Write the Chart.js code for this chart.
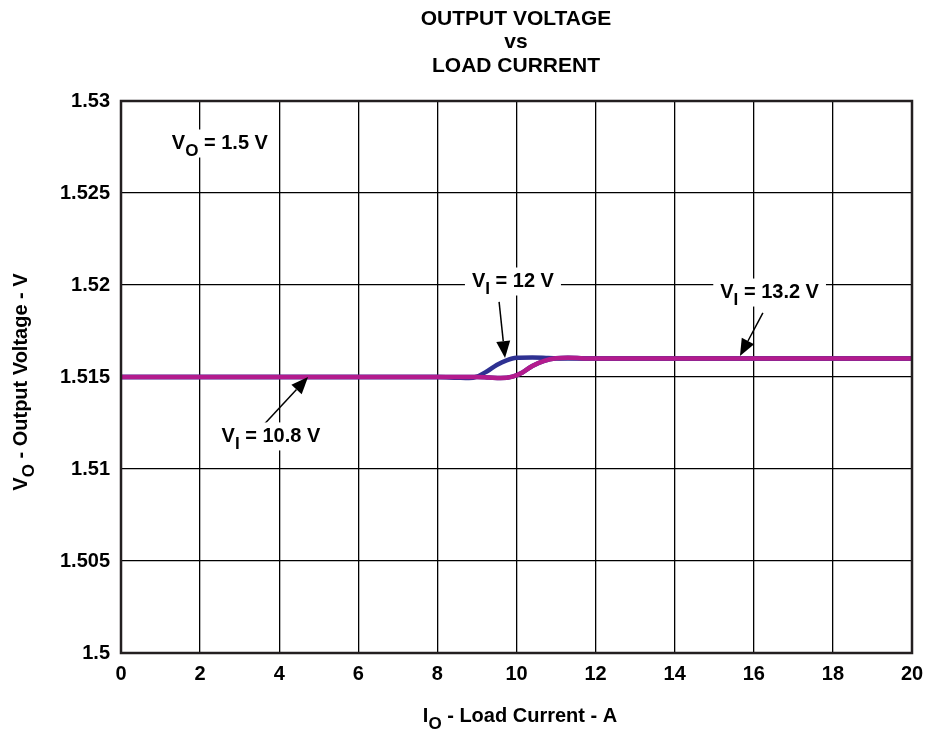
<!DOCTYPE html>
<html>
<head>
<meta charset="utf-8">
<script src="https://cdn.jsdelivr.net/npm/chart.js@4.4.1/dist/chart.umd.min.js"></script>
<style>
  html, body { margin: 0; padding: 0; background: #fff; }
  #wrap { width: 927px; height: 731px; position: relative; }
</style>
</head>
<body>
<div id="wrap"><canvas id="chart"></canvas></div>
<script>
// Values
const xTicks = [0, 2, 4, 6, 8, 10, 12, 14, 16, 18, 20];
const yTicks = [1.5, 1.505, 1.51, 1.515, 1.52, 1.525, 1.53];

const currentVi108 = [0, 2, 4, 6, 8, 9, 9.3, 9.6, 9.9, 10.15, 10.4, 10.7, 11, 11.3, 11.7, 12, 14, 16, 18, 20];
const voltageVi108 = [1.515, 1.515, 1.515, 1.515, 1.515, 1.515, 1.51497, 1.51494, 1.51502, 1.51525, 1.5156, 1.51588, 1.51602, 1.51605, 1.51601, 1.516, 1.516, 1.516, 1.516, 1.516];

const currentVi12 = [0, 2, 4, 6, 8, 8.5, 8.8, 9.0, 9.25, 9.5, 9.75, 10.0, 10.4, 10.8, 11.2, 12, 14, 16, 18, 20];
const voltageVi12 = [1.515, 1.515, 1.515, 1.515, 1.515, 1.51496, 1.51494, 1.51502, 1.5153, 1.51565, 1.5159, 1.51604, 1.51606, 1.51603, 1.516, 1.516, 1.516, 1.516, 1.516, 1.516];

const currentVi132 = [0, 2, 4, 6, 8, 9, 9.3, 9.6, 9.9, 10.15, 10.4, 10.7, 11, 11.3, 11.7, 12, 14, 16, 18, 20];
const voltageVi132 = [1.515, 1.515, 1.515, 1.515, 1.515, 1.515, 1.51497, 1.51494, 1.51502, 1.51525, 1.5156, 1.51588, 1.51602, 1.51605, 1.51601, 1.516, 1.516, 1.516, 1.516, 1.516];

const titleLines = ['OUTPUT VOLTAGE', 'vs', 'LOAD CURRENT'];

const BLUE = '#2e3192';
const MAGENTA = '#b31b8d';
const FONT = '"Liberation Sans", Arial, Helvetica, sans-serif';

const toPoints = (xs, ys) => xs.map((x, i) => ({ x, y: ys[i] }));

// annotation labels: text parts, label centre, arrow from/to (data units)
const notes = [
  { parts: [['V'], ['O', 1], [' = 1.5 V']], at: [2.5, 1.52769] },
  { parts: [['V'], ['I', 1], [' = 12 V']], at: [9.91, 1.52019], arrow: [[9.56, 1.51908], [9.71, 1.51603]] },
  { parts: [['V'], ['I', 1], [' = 13.2 V']], at: [16.4, 1.51959], arrow: [[16.23, 1.51848], [15.65, 1.51614]] },
  { parts: [['V'], ['I', 1], [' = 10.8 V']], at: [3.79, 1.51177], arrow: [[3.51, 1.51217], [4.73, 1.5150]] },
];

function richWidth(ctx, parts) {
  let w = 0;
  for (const [t, sub] of parts) {
    ctx.font = sub ? `bold 17px ${FONT}` : `bold 20px ${FONT}`;
    w += ctx.measureText(t).width;
  }
  return w;
}

function drawRich(ctx, parts, cx, cy, bg) {
  const w = richWidth(ctx, parts);
  let x = cx - w / 2;
  if (bg) {
    ctx.fillStyle = '#fff';
    ctx.fillRect(x - 7, cy - 14, w + 14, 28);
  }
  ctx.fillStyle = '#000';
  ctx.textAlign = 'left';
  ctx.textBaseline = 'middle';
  for (const [t, sub] of parts) {
    ctx.font = sub ? `bold 17px ${FONT}` : `bold 20px ${FONT}`;
    ctx.fillText(t, x, cy + (sub ? 8 : 0));
    x += ctx.measureText(t).width;
  }
}

function drawArrow(ctx, x1, y1, x2, y2) {
  const ang = Math.atan2(y2 - y1, x2 - x1);
  const len = 17, half = 7;
  const bx = x2 - len * Math.cos(ang), by = y2 - len * Math.sin(ang);
  ctx.strokeStyle = '#000';
  ctx.lineWidth = 1.5;
  ctx.beginPath();
  ctx.moveTo(x1, y1);
  ctx.lineTo(bx, by);
  ctx.stroke();
  ctx.fillStyle = '#000';
  ctx.beginPath();
  ctx.moveTo(x2, y2);
  ctx.lineTo(bx + half * Math.sin(ang), by - half * Math.cos(ang));
  ctx.lineTo(bx - half * Math.sin(ang), by + half * Math.cos(ang));
  ctx.closePath();
  ctx.fill();
}

const backgroundPlugin = {
  id: 'background',
  beforeDraw(chart) {
    const ctx = chart.ctx;
    ctx.save();
    ctx.fillStyle = '#fff';
    ctx.fillRect(0, 0, chart.width, chart.height);
    ctx.restore();
  },
};

const decorPlugin = {
  id: 'decor',
  afterDatasetsDraw(chart) {
    const { ctx, chartArea: a, scales: { x, y } } = chart;
    ctx.save();
    // frame
    ctx.strokeStyle = '#231f20';
    ctx.lineWidth = 2.5;
    ctx.strokeRect(a.left, a.top, a.right - a.left, a.bottom - a.top);
    // annotations
    for (const n of notes) {
      if (n.arrow) {
        const [[fx, fy], [tx, ty]] = n.arrow;
        drawArrow(ctx, x.getPixelForValue(fx), y.getPixelForValue(fy), x.getPixelForValue(tx), y.getPixelForValue(ty));
      }
    }
    for (const n of notes) {
      drawRich(ctx, n.parts, x.getPixelForValue(n.at[0]), y.getPixelForValue(n.at[1]), true);
    }
    ctx.restore();
  },
  afterDraw(chart) {
    const { ctx } = chart;
    ctx.save();
    ctx.fillStyle = '#000';
    ctx.textAlign = 'center';
    ctx.textBaseline = 'middle';
    ctx.font = `bold 21px ${FONT}`;
    titleLines.forEach((t, i) => ctx.fillText(t, 516, 19 + i * 23.5));
    // axis titles
    drawRich(ctx, [['I'], ['O', 1], [' - Load Current - A']], 520, 716, false);
    ctx.translate(21, 382);
    ctx.rotate(-Math.PI / 2);
    drawRich(ctx, [['V'], ['O', 1], [' - Output Voltage - V']], 0, 0, false);
    ctx.restore();
  },
};

new Chart(document.getElementById('chart'), {
  type: 'line',
  data: {
    // first dataset is painted on top
    datasets: [
      { label: 'VI = 13.2 V', data: toPoints(currentVi132, voltageVi132), borderColor: MAGENTA },
      { label: 'VI = 12 V', data: toPoints(currentVi12, voltageVi12), borderColor: BLUE },
      { label: 'VI = 10.8 V', data: toPoints(currentVi108, voltageVi108), borderColor: BLUE },
    ].map(d => ({ ...d, borderWidth: 4.5, pointRadius: 0, cubicInterpolationMode: 'monotone', fill: false })),
  },
  options: {
    responsive: true,
    maintainAspectRatio: false,
    animation: false,
    layout: { padding: { top: 101, right: 15, left: 0, bottom: 0 } },
    plugins: { legend: { display: false }, tooltip: { enabled: false }, title: { display: false } },
    scales: {
      x: {
        type: 'linear',
        min: 0,
        max: 20,
        afterBuildTicks: s => { s.ticks = xTicks.map(value => ({ value })); },
        afterFit: s => { s.height = 78; s.paddingLeft = 0; s.paddingRight = 0; },
        ticks: { color: '#000', font: { family: FONT, size: 20, weight: 'bold' }, padding: 9, maxRotation: 0 },
        grid: { color: '#000', lineWidth: 1.3, drawTicks: false },
        border: { display: false },
      },
      y: {
        type: 'linear',
        min: 1.5,
        max: 1.53,
        afterBuildTicks: s => { s.ticks = yTicks.map(value => ({ value })); },
        afterFit: s => { s.width = 121; s.paddingTop = 0; s.paddingBottom = 0; },
        ticks: {
          color: '#000',
          font: { family: FONT, size: 20, weight: 'bold' },
          padding: 11,
          callback: v => String(parseFloat(v.toFixed(3))),
        },
        grid: { color: '#000', lineWidth: 1.3, drawTicks: false },
        border: { display: false },
      },
    },
  },
  plugins: [backgroundPlugin, decorPlugin],
});
</script>
</body>
</html>
